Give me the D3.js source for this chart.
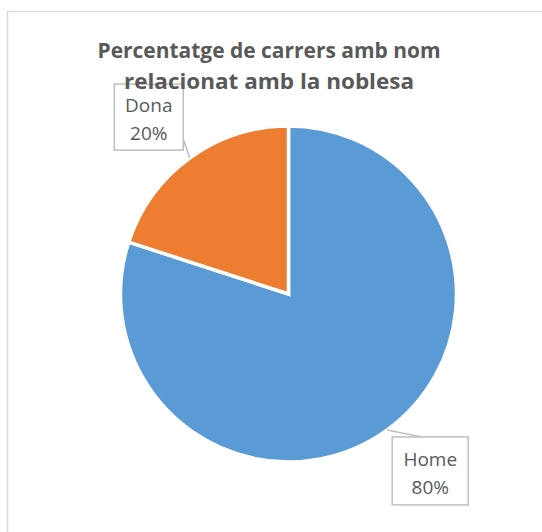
<!DOCTYPE html>
<html>
<head>
<meta charset="utf-8">
<script src="https://cdn.jsdelivr.net/npm/d3@7"></script>
<style>
  body { margin: 0; background: #fff; }
  text { font-family: "Open Sans", "DejaVu Sans", sans-serif; }
</style>
</head>
<body>
<svg id="chart" width="542" height="532"></svg>
<script>
// data
var categories = ["Home", "Dona"];
var values = [80, 20];
var pctLabels = ["80%", "20%"];
var colors = ["#5B9BD5", "#ED7D31"];
var titleLines = ["Percentatge de carrers amb nom", "relacionat amb la noblesa"];

var svg = d3.select("#chart");
var cx = 288.5, cy = 294, radius = 168;

// chart border (runs off right / bottom)
svg.append("rect")
  .attr("x", 7.5).attr("y", 11.5)
  .attr("width", 560).attr("height", 560)
  .attr("fill", "none")
  .attr("stroke", "#d9d9d9")
  .attr("stroke-width", 1.5);

var data = categories.map(function(c, i) { return {name: c, value: values[i], pct: pctLabels[i], color: colors[i]}; });

var pie = d3.pie().sort(null).value(function(d) { return d.value; });
var arc = d3.arc().innerRadius(0).outerRadius(radius);

var g = svg.append("g").attr("transform", "translate(" + cx + "," + cy + ")");

var arcs = pie(data);
g.selectAll("path.slice")
  .data(arcs)
  .enter().append("path")
  .attr("class", "slice")
  .attr("d", arc)
  .attr("fill", function(d) { return d.data.color; })
  .attr("stroke", "#fff")
  .attr("stroke-width", 3.5)
  .attr("stroke-linejoin", "miter");

// title (drawn under the label boxes' text, like the original)
var title = svg.append("g");
var titleWidths = [343, 290];
titleLines.forEach(function(t, i) {
  title.append("text")
    .attr("x", 269).attr("y", 58 + i * 31)
    .attr("text-anchor", "middle")
    .attr("fill", "#595959")
    .style("font-size", "21px")
    .style("font-weight", "bold")
    .attr("textLength", titleWidths[i])
    .attr("lengthAdjust", "spacingAndGlyphs")
    .text(t);
});

// labels: box offset from edge point, leader end point relative to box
var labelLayout = {
  "Home": {dx: 43, dy: 41, w: 76, h: 68, lx: -8, ly: -34},
  "Dona": {dx: -41, dy: -41, w: 69, h: 66, lx: 34.5, ly: 22}
};

arcs.forEach(function(a) {
  var mid = (a.startAngle + a.endAngle) / 2;
  var ex = Math.sin(mid) * radius, ey = -Math.cos(mid) * radius;
  var L = labelLayout[a.data.name];
  var bx = ex + L.dx, by = ey + L.dy;  // box centre
  var lg = g.append("g");
  lg.append("line")
    .attr("x1", ex).attr("y1", ey)
    .attr("x2", bx + L.lx).attr("y2", by + L.ly)
    .attr("stroke", "#bfbfbf")
    .attr("stroke-width", 1.5);
  lg.append("rect")
    .attr("x", bx - L.w / 2).attr("y", by - L.h / 2)
    .attr("width", L.w).attr("height", L.h)
    .attr("fill", "none")
    .attr("stroke", "#bfbfbf")
    .attr("stroke-width", 1.5);
  lg.append("text")
    .attr("x", bx).attr("y", by - 5)
    .attr("text-anchor", "middle")
    .attr("fill", "#595959")
    .style("font-size", "19px")
    .text(a.data.name);
  lg.append("text")
    .attr("x", bx).attr("y", by + 23)
    .attr("text-anchor", "middle")
    .attr("fill", "#595959")
    .style("font-size", "19px")
    .text(a.data.pct);
});
</script>
</body>
</html>
